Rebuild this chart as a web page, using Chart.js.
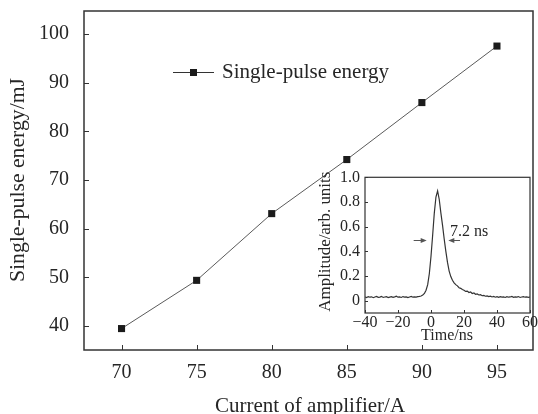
<!DOCTYPE html>
<html>
<head>
<meta charset="utf-8">
<script src="https://cdn.jsdelivr.net/npm/chart.js@4.4.1/dist/chart.umd.min.js"></script>
<style>
  html, body { margin: 0; padding: 0; background: #fff; }
  #wrap { position: relative; width: 538px; height: 414px; }
  #main { position: absolute; left: 0; top: 0; }
  #inset { position: absolute; left: 300px; top: 160px; }
</style>
</head>
<body>
<div id="wrap">
  <canvas id="main" width="538" height="414"></canvas>
  <canvas id="inset" width="238" height="185"></canvas>
</div>
<script>
// main plot: energy vs amplifier current
const currents = [70, 75, 80, 85, 90, 95];
const energies = [39.5, 49.4, 63.1, 74.2, 85.9, 97.5];
const xTicks = [70, 75, 80, 85, 90, 95];
const yTicks = [40, 50, 60, 70, 80, 90, 100];
const seriesName = "Single-pulse energy";
const xTitle = "Current of amplifier/A";
const yTitle = "Single-pulse energy/mJ";

// inset: pulse shape (1 ns steps)
const pulseTime = [
  -40, -39, -38, -37, -36, -35, -34, -33, -32, -31, -30, -29, -28, -27, -26, -25, -24,
  -23, -22, -21, -20, -19, -18, -17, -16, -15, -14, -13, -12, -11, -10, -9, -8, -7, -6,
  -5, -4, -3, -2, -1, 0, 1, 2, 3, 4, 5, 6, 7, 8, 9, 10, 11, 12, 13, 14, 15, 16, 17, 18, 19, 20,
  21, 22, 23, 24, 25, 26, 27, 28, 29, 30, 31, 32, 33, 34, 35, 36, 37, 38, 39, 40,
  41, 42, 43, 44, 45, 46, 47, 48, 49, 50, 51, 52, 53, 54, 55, 56, 57, 58, 59, 60
];
const pulseAmp = [
  0.030, 0.025, 0.033, 0.028, 0.031, 0.024, 0.030, 0.034, 0.027, 0.029, 0.035, 0.026, 0.030, 0.033, 0.025, 0.029, 0.032,
  0.027, 0.031, 0.036, 0.028, 0.030, 0.026, 0.033, 0.029, 0.031, 0.025, 0.030, 0.034, 0.028, 0.031, 0.029, 0.033, 0.035, 0.038,
  0.045, 0.058, 0.085, 0.13, 0.22, 0.36, 0.53, 0.71, 0.84, 0.89, 0.82, 0.71, 0.61, 0.50, 0.40, 0.31, 0.24, 0.195, 0.165, 0.145, 0.13, 0.12, 0.105, 0.10, 0.09, 0.085,
  0.075, 0.078, 0.066, 0.070, 0.058, 0.062, 0.052, 0.055, 0.046, 0.048, 0.040, 0.043, 0.036, 0.039, 0.033, 0.036, 0.030, 0.034, 0.028, 0.032,
  0.027, 0.033, 0.029, 0.031, 0.026, 0.032, 0.028, 0.030, 0.034, 0.027, 0.031, 0.029, 0.033, 0.026, 0.030, 0.032, 0.028, 0.031, 0.027, 0.030
];
const insetXTicks = [-40, -20, 0, 20, 40, 60];
const insetYTicks = [0, 0.2, 0.4, 0.6, 0.8, 1.0];
const insetXTitle = "Time/ns";
const insetYTitle = "Amplitude/arb. units";
const fwhmLabel = "7.2 ns";
const fwhmLeft = [-10.5, -2.6];   // arrow tail -> tip (ns)
const fwhmRight = [17.6, 10.5];
const fwhmLevel = 0.49;

const SERIF = '"Liberation Serif", "Times New Roman", serif';
const INK = "#262626";

function font(size) {
  return size + "px " + SERIF;
}

// keep chart area exactly where layout.padding puts it
function noScalePadding(s) {
  s.paddingTop = 0;
  s.paddingBottom = 0;
  s.paddingLeft = 0;
  s.paddingRight = 0;
}

function drawFrame(chart, lw) {
  const { ctx, chartArea: a } = chart;
  ctx.save();
  ctx.strokeStyle = "#333";
  ctx.lineWidth = lw;
  ctx.strokeRect(a.left, a.top, a.right - a.left, a.bottom - a.top);
  ctx.restore();
}

function drawInwardTicks(chart, len) {
  const { ctx, chartArea: a } = chart;
  const xs = chart.scales.x;
  const ys = chart.scales.y;
  ctx.save();
  ctx.strokeStyle = "#333";
  ctx.lineWidth = 1;
  ctx.beginPath();
  for (const t of xs.ticks) {
    const px = Math.round(xs.getPixelForValue(t.value)) + 0.5;
    ctx.moveTo(px, a.bottom);
    ctx.lineTo(px, a.bottom - len);
  }
  for (const t of ys.ticks) {
    const py = Math.round(ys.getPixelForValue(t.value)) + 0.5;
    ctx.moveTo(a.left, py);
    ctx.lineTo(a.left + len, py);
  }
  ctx.stroke();
  ctx.restore();
}

// rotated title fitted to the length it has in the picture
function drawVerticalTitle(ctx, text, cx, cy, size, length) {
  ctx.save();
  ctx.font = font(size);
  ctx.fillStyle = INK;
  ctx.textAlign = "center";
  ctx.textBaseline = "middle";
  const w = ctx.measureText(text).width;
  ctx.translate(cx, cy);
  ctx.rotate(-Math.PI / 2);
  ctx.scale(length / w, 1);
  ctx.fillText(text, 0, 0);
  ctx.restore();
}

const mainDecor = {
  id: "mainDecor",
  afterDraw(chart) {
    const { ctx } = chart;
    drawFrame(chart, 1.5);
    drawInwardTicks(chart, 5);

    // legend
    ctx.save();
    ctx.strokeStyle = "#333";
    ctx.lineWidth = 1;
    ctx.beginPath();
    ctx.moveTo(173, 72.5);
    ctx.lineTo(214, 72.5);
    ctx.stroke();
    ctx.fillStyle = "#1b1b1b";
    ctx.fillRect(190, 69, 7, 7);
    ctx.font = font(21);
    ctx.fillStyle = INK;
    ctx.textAlign = "left";
    ctx.textBaseline = "middle";
    ctx.fillText(seriesName, 222, 72);

    // axis titles
    ctx.textAlign = "center";
    ctx.fillText(xTitle, 310, 406);
    ctx.restore();
    drawVerticalTitle(ctx, yTitle, 18, 180, 21.5, 204);
  }
};

new Chart(document.getElementById("main"), {
  type: "line",
  data: {
    datasets: [{
      label: seriesName,
      data: currents.map((x, i) => ({ x, y: energies[i] })),
      borderColor: "#5a5a5a",
      borderWidth: 1,
      pointStyle: "rect",
      pointRadius: 5,
      pointBackgroundColor: "#1b1b1b",
      pointBorderColor: "#1b1b1b",
      pointBorderWidth: 0,
      tension: 0
    }]
  },
  options: {
    responsive: false,
    animation: false,
    layout: { padding: { top: 11, right: 1.5, left: 0, bottom: 0 } },
    plugins: { legend: { display: false }, tooltip: { enabled: false } },
    scales: {
      x: {
        type: "linear",
        min: 67.5,
        max: 97.4,
        afterBuildTicks: (s) => { s.ticks = xTicks.map((v) => ({ value: v })); },
        afterFit: (s) => { s.height = 64; noScalePadding(s); },
        grid: { display: false, drawTicks: false, drawOnChartArea: false },
        border: { display: false },
        ticks: { padding: 11, color: INK, font: { family: SERIF, size: 20 } }
      },
      y: {
        min: 35.1,
        max: 104.7,
        afterBuildTicks: (s) => { s.ticks = yTicks.map((v) => ({ value: v })); },
        afterFit: (s) => { s.width = 84; noScalePadding(s); },
        grid: { display: false, drawTicks: false, drawOnChartArea: false },
        border: { display: false },
        ticks: { padding: 15, color: INK, font: { family: SERIF, size: 20 } }
      }
    }
  },
  plugins: [mainDecor]
});

function arrow(ctx, x0, x1, y) {
  const dir = Math.sign(x1 - x0);
  ctx.beginPath();
  ctx.moveTo(x0, y);
  ctx.lineTo(x1 - dir * 4, y);
  ctx.stroke();
  ctx.beginPath();
  ctx.moveTo(x1, y);
  ctx.lineTo(x1 - dir * 6, y - 2.5);
  ctx.lineTo(x1 - dir * 6, y + 2.5);
  ctx.closePath();
  ctx.fill();
}

const insetDecor = {
  id: "insetDecor",
  afterDraw(chart) {
    const { ctx } = chart;
    const xs = chart.scales.x;
    const ys = chart.scales.y;
    drawFrame(chart, 1.2);
    drawInwardTicks(chart, 3);

    // FWHM arrows and label
    ctx.save();
    ctx.strokeStyle = "#555";
    ctx.fillStyle = "#555";
    ctx.lineWidth = 1;
    const ay = Math.round(ys.getPixelForValue(fwhmLevel)) + 0.5;
    arrow(ctx, xs.getPixelForValue(fwhmLeft[0]), xs.getPixelForValue(fwhmLeft[1]), ay);
    arrow(ctx, xs.getPixelForValue(fwhmRight[0]), xs.getPixelForValue(fwhmRight[1]), ay);
    ctx.font = font(16);
    ctx.fillStyle = INK;
    ctx.textAlign = "left";
    ctx.textBaseline = "middle";
    ctx.fillText(fwhmLabel, xs.getPixelForValue(11.5), ys.getPixelForValue(0.56));

    ctx.textAlign = "center";
    ctx.fillText(insetXTitle, 147, 175.5);
    ctx.restore();
    drawVerticalTitle(ctx, insetYTitle, 26, 81.7, 16, 140);
  }
};

new Chart(document.getElementById("inset"), {
  type: "line",
  data: {
    datasets: [{
      data: pulseTime.map((t, i) => ({ x: t, y: pulseAmp[i] })),
      borderColor: "#333",
      borderWidth: 1.2,
      pointRadius: 0,
      tension: 0
    }]
  },
  options: {
    responsive: false,
    animation: false,
    layout: { padding: { top: 17.3, right: 8, left: 0, bottom: 0 } },
    plugins: { legend: { display: false }, tooltip: { enabled: false } },
    scales: {
      x: {
        type: "linear",
        min: -40,
        max: 60,
        afterBuildTicks: (s) => { s.ticks = insetXTicks.map((v) => ({ value: v })); },
        afterFit: (s) => { s.height = 32; noScalePadding(s); },
        grid: { display: false, drawTicks: false, drawOnChartArea: false },
        border: { display: false },
        ticks: {
          padding: 0,
          color: INK,
          font: { family: SERIF, size: 16 },
          callback: (v) => (v < 0 ? "\u2212" + Math.abs(v) : String(v))
        }
      },
      y: {
        min: -0.1,
        max: 1.0,
        afterBuildTicks: (s) => { s.ticks = insetYTicks.map((v) => ({ value: v })); },
        afterFit: (s) => { s.width = 65; noScalePadding(s); },
        grid: { display: false, drawTicks: false, drawOnChartArea: false },
        border: { display: false },
        ticks: {
          padding: 5,
          color: INK,
          font: { family: SERIF, size: 16 },
          callback: (v) => (v === 0 ? "0" : v.toFixed(1))
        }
      }
    }
  },
  plugins: [insetDecor]
});
</script>
</body>
</html>
